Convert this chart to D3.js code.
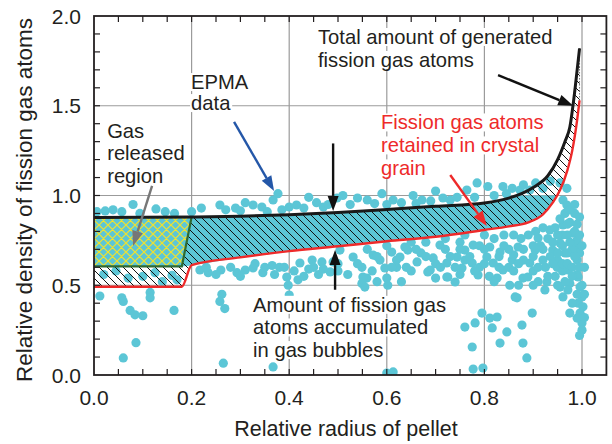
<!DOCTYPE html>
<html lang="en">
<head>
<meta charset="UTF-8">
<title>Fission gas distribution</title>
<style>
  body { margin: 0; background: #fff; }
  svg { display: block; }
  text { font-family: "Liberation Sans", Arial, Helvetica, sans-serif; fill: #231f20; }
</style>
</head>
<body>
<svg width="612" height="444"></svg>
<script src="https://cdn.jsdelivr.net/npm/d3@7"></script>
<script>
// total generated fission gas atoms (black curve)
var totalX = [0, 0.2, 0.3, 0.4, 0.5, 0.6, 0.7, 0.8, 0.85, 0.9, 0.93, 0.95, 0.965, 0.975, 0.986, 0.995];
var totalY = [0.878, 0.88, 0.884, 0.893, 0.905, 0.922, 0.94, 0.958, 0.985, 1.045, 1.11, 1.2, 1.3, 1.38, 1.6, 1.82];
// retained in crystal grain (red curve)
var retainX = [0, 0.18, 0.2, 0.3, 0.4, 0.5, 0.6, 0.7, 0.8, 0.85, 0.89, 0.92, 0.94, 0.955, 0.97, 0.98, 0.99, 0.995];
var retainY = [0.492, 0.492, 0.612, 0.655, 0.69, 0.717, 0.745, 0.77, 0.808, 0.828, 0.85, 0.895, 0.96, 1.03, 1.14, 1.25, 1.42, 1.53];
// gas released region outline (green)
var releasedX = [0, 0.18, 0.2, 0];
var releasedY = [0.605, 0.605, 0.88, 0.88];

// EPMA data points [radius, density]
var epmaAbove = [[0.006,0.91],[0.023,0.914],[0.039,0.92],[0.057,0.91],[0.08,0.95],[0.094,0.9],[0.127,0.925],[0.146,0.91],[0.165,0.9],
  [0.2,0.91],[0.22,0.93],[0.258,0.947],[0.27,0.92],[0.29,0.93],[0.31,0.96],[0.326,0.947],[0.344,0.936],[0.355,0.91],[0.367,0.975],[0.377,1.01],
  [0.4,0.936],[0.415,0.947],[0.43,0.93],[0.44,0.99],[0.456,0.96],[0.47,0.936],[0.498,0.986],[0.51,1.0],[0.525,0.95],[0.54,0.986],[0.56,0.975],
  [0.575,0.955],[0.59,1.01],[0.613,0.975],[0.63,0.96],[0.654,1.0],[0.672,0.975],[0.69,0.97],[0.7,1.025],[0.715,0.986],[0.73,0.975],[0.744,0.99],
  [0.764,1.03],[0.78,0.99],[0.785,1.07],[0.807,1.05],[0.82,1.0],[0.838,1.05],[0.845,1.01],[0.857,1.04],[0.873,1.03],[0.88,1.06],[0.893,1.03],
  [0.905,1.07],[0.92,1.04],[0.935,1.08],[0.955,1.07],[0.969,1.04],[0.961,0.975],[0.969,0.947],
  [0.3,0.915],[0.385,0.92],[0.48,0.95],[0.6,0.95],[0.66,0.955]];
var epmaLeftLow = [[0.012,0.44],[0.057,0.43],[0.06,0.41],[0.074,0.36],[0.084,0.335],[0.1,0.33],[0.115,0.46],[0.115,0.43],[0.164,0.36],
  [0.086,0.18],[0.06,0.095],[0.02,0.56],[0.045,0.58],[0.07,0.54],[0.1,0.55],[0.125,0.57],[0.14,0.52],[0.16,0.555],[0.17,0.53],
  [0.262,0.45],[0.258,0.41],[0.268,0.37],[0.265,0.066],[0.367,0.045]];
var epmaMidLow = [[0.217,0.585],[0.234,0.57],[0.26,0.585],[0.293,0.57],[0.31,0.585],[0.326,0.596],[0.346,0.57],[0.365,0.61],[0.38,0.6],
  [0.395,0.546],[0.398,0.5],[0.4,0.445],[0.418,0.53],[0.422,0.624],[0.44,0.59],[0.447,0.64],[0.46,0.56],[0.467,0.63],[0.484,0.574],[0.5,0.62],
  [0.23,0.6],[0.25,0.56],[0.28,0.6],[0.3,0.55],[0.33,0.62],[0.35,0.6],[0.37,0.56],[0.39,0.6],[0.41,0.58],[0.43,0.55],[0.45,0.6],
  [0.47,0.59],[0.49,0.63],[0.5,0.58]];
var epmaRightCloud = [[0.504,0.696],[0.531,0.657],[0.549,0.6],[0.549,0.51],[0.559,0.54],[0.551,0.546],[0.555,0.49],[0.572,0.668],[0.586,0.64],
  [0.596,0.596],[0.602,0.5],[0.6,0.54],[0.61,0.685],[0.627,0.657],[0.637,0.713],[0.643,0.696],[0.662,0.63],[0.684,0.574],[0.689,0.585],
  [0.695,0.652],[0.709,0.724],[0.723,0.624],[0.723,0.546],[0.725,0.546],[0.74,0.518],[0.744,0.657],[0.754,0.596],[0.76,0.696],[0.775,0.624],
  [0.777,0.724],[0.787,0.557],[0.805,0.657],[0.811,0.713],[0.818,0.624],[0.826,0.54],[0.832,0.685],[0.838,0.585],[0.852,0.5],[0.857,0.64],
  [0.863,0.435],[0.869,0.713],[0.879,0.54],[0.889,0.546],[0.893,0.624],[0.898,0.345],[0.904,0.696],[0.91,0.763],[0.92,0.64],[0.928,0.518],
  [0.924,0.474],[0.934,0.808],[0.94,0.696],[0.949,0.6],[0.955,0.735],[0.961,0.836],[0.965,0.68],[0.971,0.585],[0.975,0.51],[0.982,0.79],
  [0.986,0.713],[0.99,0.64],[0.992,0.546],[0.996,0.49],[1.0,0.435],[0.992,0.4],[1.002,0.38],[0.996,0.345],[1.0,0.29],[0.98,0.4],[0.975,0.345],
  [0.99,0.317],[0.961,0.435],[0.955,0.49],[0.971,0.474],[0.965,0.9],[0.975,0.85],[0.985,0.8],[0.97,0.78],[0.955,0.87],[0.945,0.82],
  [0.985,0.9],[0.99,0.75],[0.995,0.68],[0.98,0.7],[0.62,0.6],[0.65,0.58],[0.67,0.68],[0.7,0.62],[0.72,0.7],[0.75,0.74],[0.76,0.64],
  [0.79,0.6],[0.8,0.7],[0.82,0.76],[0.84,0.72],[0.85,0.6],[0.86,0.67],[0.875,0.76],[0.88,0.64],[0.9,0.58],[0.905,0.8],[0.915,0.72],
  [0.925,0.6],[0.935,0.66],[0.945,0.55],[0.95,0.64],[0.96,0.78],[0.97,0.68],[0.96,0.58],[0.54,0.62],[0.57,0.58],[0.52,0.56],
  [0.56,0.7],[0.58,0.66],[0.6,0.72],[0.62,0.64],[0.64,0.6],[0.66,0.7],[0.68,0.66],[0.71,0.6],[0.73,0.66],[0.75,0.7],[0.74,0.6],
  [0.77,0.66],[0.79,0.72],[0.78,0.58],[0.8,0.62],[0.81,0.55],[0.83,0.66],[0.84,0.78],[0.85,0.7],[0.86,0.58],[0.87,0.62],[0.88,0.7],
  [0.89,0.78],[0.9,0.66],[0.91,0.6],[0.91,0.52],[0.92,0.7],[0.93,0.76],[0.94,0.62],[0.94,0.74],[0.95,0.68],[0.96,0.62],[0.96,0.72],
  [0.97,0.62],[0.975,0.74],[0.98,0.6],[0.985,0.66],[0.99,0.56],[0.995,0.6],[0.99,0.84],[0.975,0.92],[0.995,0.78],[0.965,0.52],
  [0.98,0.55],[0.95,0.5],[0.93,0.55],[0.9,0.5],[0.87,0.5],[0.83,0.6],[0.82,0.52],[0.8,0.78],[0.76,0.78],[0.72,0.76],[0.68,0.74],
  [0.65,0.74],[0.61,0.6],[0.58,0.52],[0.63,0.52],[0.7,0.54],[0.75,0.56],[0.86,0.78],[0.9,0.72],[0.92,0.82],[0.95,0.78],[0.97,0.84],
  [0.985,0.95],[0.995,0.88],[1.0,0.72],[1.005,0.6],[1.0,0.5],[0.99,0.45],[1.005,0.45],[1.0,0.25],[0.995,0.22],[1.005,0.32]];
var epmaSparse = [[0.795,0.345],[0.811,0.317],[0.826,0.323],[0.781,0.29],[0.76,0.267],[0.816,0.262],[0.846,0.24],[0.867,0.43],
  [0.877,0.278],[0.832,0.178],[0.879,0.178],[0.887,0.095],[0.775,0.156],[0.777,0.033],[0.797,0.039],[0.613,0.017],[0.6,0.011]];

var xMajor = [0, 0.2, 0.4, 0.6, 0.8, 1.0];
var yMajor = [0, 0.5, 1.0, 1.5, 2.0];

var svg = d3.select('svg');
var x = d3.scaleLinear().domain([0, 1.05]).range([94, 606.4]);
var y = d3.scaleLinear().domain([0, 2]).range([375, 16]);

var defs = svg.append('defs');
defs.append('pattern').attr('id', 'hatch').attr('patternUnits', 'userSpaceOnUse').attr('width', 8).attr('height', 8)
  .append('path').attr('d', 'M-2,-2L10,10M-2,6L2,10M6,-2L10,2').attr('stroke', '#111').attr('stroke-width', 1);
var cross = defs.append('pattern').attr('id', 'cross').attr('patternUnits', 'userSpaceOnUse').attr('width', 9).attr('height', 9);
cross.append('path').attr('d', 'M-2,-2L11,11M-2,7L2,11M7,-2L11,2M-2,11L11,-2M-2,2L2,-2M7,11L11,7')
  .attr('stroke', '#f2e22a').attr('stroke-width', 1.2);
defs.append('clipPath').attr('id', 'below1').append('rect')
  .attr('x', x(0)).attr('y', y(1.0)).attr('width', x(1.05) - x(0)).attr('height', y(0) - y(1.0));
defs.append('clipPath').attr('id', 'plot').append('rect')
  .attr('x', x(0)).attr('y', y(2)).attr('width', x(1.05) - x(0)).attr('height', y(0) - y(2));

// grid
var g = svg.append('g');
g.selectAll('.gx').data(xMajor.slice(1)).enter().append('line')
  .attr('x1', d => x(d)).attr('x2', d => x(d)).attr('y1', y(0)).attr('y2', y(2))
  .attr('stroke', '#9b9b9b').attr('stroke-width', 1.2);
g.selectAll('.gy').data([0.5, 1.0, 1.5]).enter().append('line')
  .attr('x1', x(0)).attr('x2', x(1.05)).attr('y1', d => y(d)).attr('y2', d => y(d))
  .attr('stroke', '#9b9b9b').attr('stroke-width', 1.2);

// dots
var cyan = '#5cc6d6';
var allDots = epmaAbove.concat(epmaLeftLow, epmaMidLow, epmaRightCloud, epmaSparse);
svg.append('g').attr('clip-path', 'url(#plot)').selectAll('circle').data(allDots).enter().append('circle')
  .attr('cx', d => x(d[0])).attr('cy', d => y(d[1])).attr('r', 4.6).attr('fill', cyan);

var totalPts = totalX.map((v, i) => [v, totalY[i]]);
var retainPts = retainX.map((v, i) => [v, retainY[i]]);
var totalFn = d3.scaleLinear().domain(totalX).range(totalY);
var line = d3.line().x(d => x(d[0])).y(d => y(d[1])).curve(d3.curveMonotoneX);

// band between red and black
var band = d3.area().x(d => x(d[0])).y0(d => y(d[1])).y1(d => y(totalFn(d[0]))).curve(d3.curveMonotoneX);
// dense EPMA core inside the band (lower edge follows the green line in the released region)
var coreLow = retainPts.map(d => [d[0], d[0] <= 0.18 ? 0.605 : d[1]]);
svg.append('path').attr('d', band(coreLow)).attr('fill', cyan).attr('clip-path', 'url(#below1)');
svg.append('path').attr('d', band(retainPts)).attr('fill', 'url(#hatch)');
// right end closure
svg.append('line').attr('x1', x(0.995)).attr('x2', x(0.995)).attr('y1', y(1.53)).attr('y2', y(1.82))
  .attr('stroke', '#333').attr('stroke-width', 1).attr('stroke-dasharray', '1,2');

// gas released region
var relPts = releasedX.map((v, i) => [v, releasedY[i]]);
var poly = d3.line().x(d => x(d[0])).y(d => y(d[1]));
svg.append('path').attr('d', poly(relPts) + 'Z').attr('fill', cyan);
svg.append('path').attr('d', poly(relPts) + 'Z').attr('fill', 'url(#cross)');
svg.append('path').attr('d', poly(relPts.slice(0, 3))).attr('fill', 'none').attr('stroke', '#2f6a32').attr('stroke-width', 2.2);

svg.append('path').attr('d', line(retainPts)).attr('fill', 'none').attr('stroke', '#ee2a2a').attr('stroke-width', 2.4);
svg.append('path').attr('d', line(totalPts)).attr('fill', 'none').attr('stroke', '#1a1a1a').attr('stroke-width', 3);

// labels
function label(lines, x0, ys, color) {
  var grp = svg.append('g');
  var bg = grp.append('g');
  lines.forEach(function (t, i) {
    var tx = grp.append('text').attr('x', x(x0)).attr('y', y(ys[i])).attr('font-size', 20.2).text(t);
    if (color) tx.style('fill', color);
    var b = tx.node().getBBox();
    bg.append('rect').attr('x', b.x - 1).attr('y', b.y + 2).attr('width', b.width + 2).attr('height', b.height - 4).attr('fill', '#fff');
  });
}
label(['Total amount of generated', 'fission gas atoms'], 0.459, [1.844, 1.716]);
label(['EPMA', 'data'], 0.199, [1.593, 1.476]);
label(['Gas', 'released', 'region'], 0.027, [1.322, 1.196, 1.07]);
label(['Fission gas atoms', 'retained in crystal', 'grain'], 0.588, [1.368, 1.24, 1.112], '#ee2a2a');
label(['Amount of fission gas', 'atoms accumulated', 'in gas bubbles'], 0.326, [0.352, 0.226, 0.1]);

// arrows
function arrow(x1, y1, x2, y2, color, w) {
  var X1 = x(x1), Y1 = y(y1), X2 = x(x2), Y2 = y(y2);
  var a = Math.atan2(Y2 - Y1, X2 - X1), L = 15, H = 5.5;
  var bx = X2 - L * Math.cos(a), by = Y2 - L * Math.sin(a);
  svg.append('line').attr('x1', X1).attr('y1', Y1).attr('x2', bx).attr('y2', by).attr('stroke', color).attr('stroke-width', w);
  svg.append('path').attr('fill', color).attr('d', 'M' + X2 + ',' + Y2 +
    'L' + (bx + H * Math.sin(a)) + ',' + (by - H * Math.cos(a)) +
    'L' + (bx - H * Math.sin(a)) + ',' + (by + H * Math.cos(a)) + 'Z');
}
arrow(0.119, 1.053, 0.08, 0.719, '#777777', 2.4);
arrow(0.287, 1.41, 0.369, 1.025, '#2457a8', 2.4);
arrow(0.49, 1.29, 0.49, 0.914, '#111', 2.4);
arrow(0.494, 0.475, 0.494, 0.696, '#111', 2.4);
arrow(0.828, 1.671, 0.982, 1.5, '#111', 2.4);
arrow(0.73, 1.114, 0.805, 0.83, '#ee2a2a', 2.4);

// axes frame and ticks
var ax = svg.append('g').attr('stroke', '#231f20');
ax.append('rect').attr('x', x(0)).attr('y', y(2)).attr('width', x(1.05) - x(0)).attr('height', y(0) - y(2))
  .attr('fill', 'none').attr('stroke-width', 1.8);
var xMinor = d3.range(0.05, 1.05, 0.05);
ax.selectAll('.tb').data(xMinor).enter().append('line').attr('x1', d => x(d)).attr('x2', d => x(d))
  .attr('y1', y(0)).attr('y2', y(0) - 6).attr('stroke-width', 1.2);
ax.selectAll('.tt').data(xMinor).enter().append('line').attr('x1', d => x(d)).attr('x2', d => x(d))
  .attr('y1', y(2)).attr('y2', y(2) + 6).attr('stroke-width', 1.2);
var yMinor = d3.range(0.1, 2, 0.1);
ax.selectAll('.tl').data(yMinor).enter().append('line').attr('y1', d => y(d)).attr('y2', d => y(d))
  .attr('x1', x(0)).attr('x2', x(0) + 6).attr('stroke-width', 1.2);
ax.selectAll('.tr').data(yMinor).enter().append('line').attr('y1', d => y(d)).attr('y2', d => y(d))
  .attr('x1', x(1.05)).attr('x2', x(1.05) - 6).attr('stroke-width', 1.2);

svg.append('g').selectAll('text').data(xMajor).enter().append('text')
  .attr('x', d => x(d)).attr('y', 405).attr('text-anchor', 'middle').attr('font-size', 21).text(d => d.toFixed(1));
svg.append('g').selectAll('text').data(yMajor).enter().append('text')
  .attr('x', 81).attr('y', d => y(d) + 7.5).attr('text-anchor', 'end').attr('font-size', 21).text(d => d.toFixed(1));

svg.append('text').attr('x', 346).attr('y', 436).attr('text-anchor', 'middle').attr('font-size', 21.5).text('Relative radius of pellet');
svg.append('text').attr('transform', 'translate(32,200) rotate(-90)').attr('text-anchor', 'middle')
  .attr('font-size', 22.5).text('Relative density of fission gas atoms');
</script>
</body>
</html>
